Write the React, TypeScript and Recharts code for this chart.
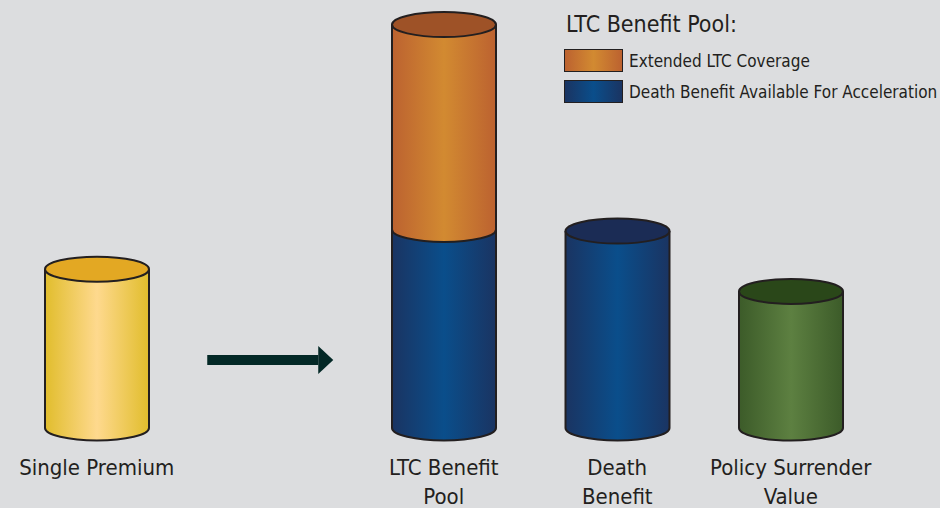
import { BarChart, Bar, XAxis, YAxis, Legend } from 'recharts';

const categories = ['Single Premium', ' ', 'LTC Benefit Pool', 'Death Benefit', 'Policy Surrender Value'];
const tickLines = [['Single Premium'], [], ['LTC Benefit', 'Pool'], ['Death', 'Benefit'], ['Policy Surrender', 'Value']];
const baseValues = [100, 0, 125, 124, 86];
const extendedValues = [0, 0, 129, 0, 0];
const themes = ['gold', 'none', 'blue', 'blue', 'green'];
const legendTitle = 'LTC Benefit Pool:';
const legendNames = ['Extended LTC Coverage', 'Death Benefit Available For Acceleration'];
const legendThemes = ['orange', 'blue'];

const data = categories.map((name, i) => ({
  name,
  base: baseValues[i],
  extended: extendedValues[i],
}));

const PALETTE: Record<string, { edge: string; mid: string; top: string }> = {
  gold: { edge: '#e1bd2c', mid: '#fed98e', top: '#e3a823' },
  orange: { edge: '#bc6230', mid: '#d28a31', top: '#9e5227' },
  blue: { edge: '#1a3462', mid: '#0a4e8b', top: '#1b2c55' },
  green: { edge: '#3c5b29', mid: '#5d8041', top: '#2a4719' },
};

const FONT = "'Liberation Sans Narrow', 'DejaVu Sans Condensed', 'Arial Narrow', sans-serif";
const INK = '#231f20';
const RY = 12.5;

function Cylinder(props: any, themeOf: (i: number) => string, hasCap: (i: number) => boolean) {
  const { x, y, width, height, index } = props;
  if (!height || height <= 0) return <g />;
  const theme = themeOf(index);
  const c = PALETTE[theme];
  const rx = width / 2;
  const cx = x + rx;
  const yb = y + height;
  const fillPath = `M${x},${y} L${x},${yb} A${rx},${RY} 0 0 0 ${x + width},${yb} L${x + width},${y} Z`;
  const strokePath = `M${x},${y} L${x},${yb} A${rx},${RY} 0 0 0 ${x + width},${yb} L${x + width},${y}`;
  return (
    <g>
      <path d={fillPath} fill={`url(#grad-${theme})`} />
      <path d={strokePath} fill="none" stroke={INK} strokeWidth={2} />
      {hasCap(index) && (
        <ellipse cx={cx} cy={y} rx={rx} ry={RY} fill={c.top} stroke={INK} strokeWidth={2} />
      )}
    </g>
  );
}

function CategoryTick(props: any) {
  const { x, y, index } = props;
  if (index === 1) {
    return (
      <g fill="#032826">
        <rect x={x - 63} y={y - 73} width={111} height={10} />
        <polygon points={`${x + 48},${y - 82} ${x + 63},${y - 68} ${x + 48},${y - 54}`} />
      </g>
    );
  }
  const lines = tickLines[index] ?? [];
  return (
    <text x={x} y={y} textAnchor="middle" fill={INK} fontFamily={FONT} fontSize={22}>
      {lines.map((line, i) => (
        <tspan key={i} x={x} dy={i === 0 ? 47 : 29}>
          {line}
        </tspan>
      ))}
    </text>
  );
}

function LegendBox() {
  return (
    <div style={{ fontFamily: FONT, color: INK, textAlign: 'left', whiteSpace: 'nowrap' }}>
      <div style={{ fontSize: 23, lineHeight: '28px', marginLeft: 2, marginBottom: 7 }}>{legendTitle}</div>
      {legendNames.map((name, i) => {
        const c = PALETTE[legendThemes[i]];
        return (
          <div key={name} style={{ display: 'flex', alignItems: 'center', height: 31 }}>
            <div
              style={{
                boxSizing: 'border-box',
                width: 59,
                height: 23,
                border: `1.5px solid ${INK}`,
                background: `linear-gradient(to right, ${c.edge}, ${c.mid}, ${c.edge})`,
                marginRight: 6,
                flexShrink: 0,
              }}
            />
            <span style={{ fontSize: 17 }}>{name}</span>
          </div>
        );
      })}
    </div>
  );
}

export default function App() {
  return (
    <div style={{ position: 'absolute', left: 0, top: 0, width: 940, height: 508, background: '#dcdddf', overflow: 'hidden' }}>
      <BarChart
        width={940}
        height={508}
        data={data}
        margin={{ top: 15, right: 62.5, bottom: 0, left: 10 }}
        barSize={104}
      >
        <defs>
          {Object.entries(PALETTE).map(([k, c]) => (
            <linearGradient key={k} id={`grad-${k}`} x1="0" y1="0" x2="1" y2="0">
              <stop offset="0%" stopColor={c.edge} />
              <stop offset="50%" stopColor={c.mid} />
              <stop offset="100%" stopColor={c.edge} />
            </linearGradient>
          ))}
        </defs>
        <XAxis
          dataKey="name"
          axisLine={false}
          tickLine={false}
          tickSize={0}
          tickMargin={0}
          height={80}
          interval={0}
          tick={<CategoryTick />}
        />
        <YAxis hide domain={[0, 260]} />
        <Legend
          layout="vertical"
          align="center"
          verticalAlign="middle"
          wrapperStyle={{ top: 10, left: 564, width: 376 }}
          content={() => <LegendBox />}
        />
        <Bar
          dataKey="base"
          name={legendNames[1]}
          stackId="pool"
          isAnimationActive={false}
          shape={(p: any) => Cylinder(p, (i) => themes[i], (i) => extendedValues[i] === 0)}
        />
        <Bar
          dataKey="extended"
          name={legendNames[0]}
          stackId="pool"
          isAnimationActive={false}
          shape={(p: any) => Cylinder(p, () => 'orange', () => true)}
        />
      </BarChart>
    </div>
  );
}
